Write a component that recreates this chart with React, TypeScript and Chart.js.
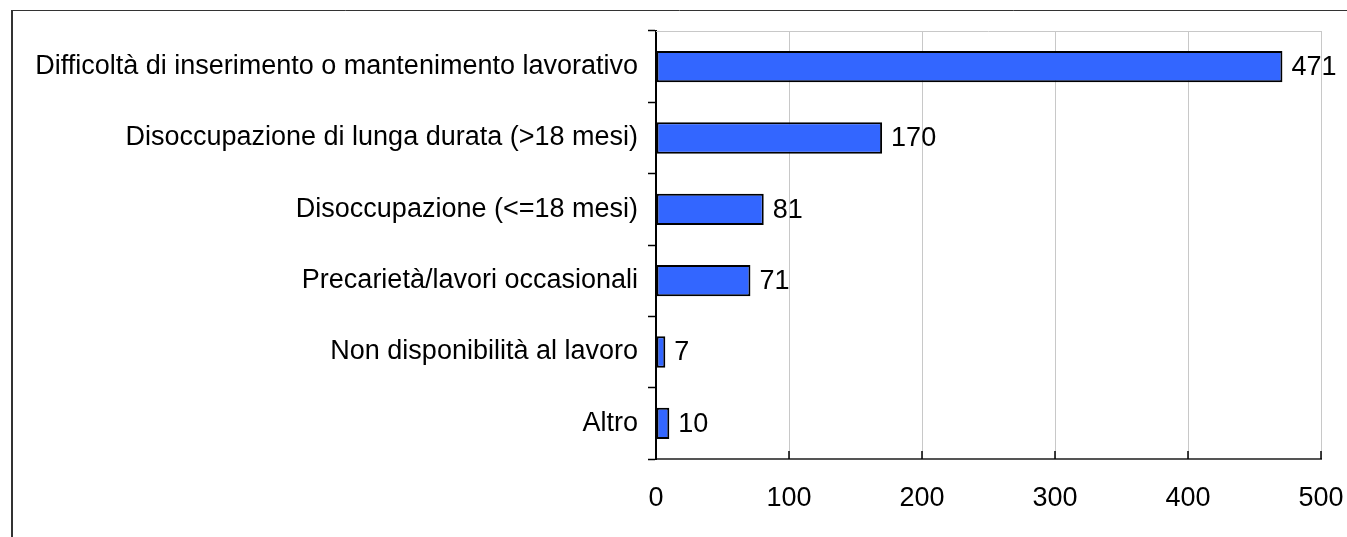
import React, { useEffect, useRef } from "react";
import { Chart, registerables } from "chart.js";

Chart.register(...registerables);

const categories = [
  "Difficoltà di inserimento o mantenimento lavorativo",
  "Disoccupazione di lunga durata (>18 mesi)",
  "Disoccupazione (<=18 mesi)",
  "Precarietà/lavori occasionali",
  "Non disponibilità al lavoro",
  "Altro",
];
const values = [471, 170, 81, 71, 7, 10];
const xTicks = [0, 100, 200, 300, 400, 500];

const FONT = "'Liberation Sans', Arial, sans-serif";
const FS = 27;

const framePlugin = {
  id: "frame",
  beforeDraw(chart: any) {
    const ctx = chart.ctx;
    ctx.save();
    ctx.fillStyle = "#ffffff";
    ctx.fillRect(0, 0, chart.width, chart.height);
    ctx.strokeStyle = "#333333";
    ctx.lineWidth = 2;
    ctx.beginPath();
    ctx.moveTo(12, chart.height + 5);
    ctx.lineTo(12, 10.5);
    ctx.stroke();
    ctx.lineWidth = 1;
    ctx.beginPath();
    ctx.moveTo(11, 10.5);
    ctx.lineTo(chart.width + 5, 10.5);
    ctx.stroke();
    ctx.restore();
  },
  afterDraw(chart: any) {
    const ctx = chart.ctx;
    const { chartArea } = chart;
    const xs = chart.scales.x;
    ctx.save();
    ctx.strokeStyle = "#c8c8c8";
    ctx.lineWidth = 1;
    ctx.beginPath();
    ctx.moveTo(chartArea.left, Math.round(chartArea.top) + 0.5);
    ctx.lineTo(chartArea.right, Math.round(chartArea.top) + 0.5);
    ctx.stroke();
    ctx.strokeStyle = "#000000";
    ctx.lineWidth = 1.5;
    xTicks.forEach((v) => {
      if (v === 0) return;
      const px = Math.round(xs.getPixelForValue(v));
      ctx.beginPath();
      ctx.moveTo(px, chartArea.bottom);
      ctx.lineTo(px, chartArea.bottom - 8);
      ctx.stroke();
    });
    const meta = chart.getDatasetMeta(0);
    ctx.fillStyle = "#000000";
    ctx.font = `${FS}px ${FONT}`;
    ctx.textAlign = "left";
    ctx.textBaseline = "middle";
    meta.data.forEach((bar: any, i: number) => {
      const p = bar.getProps(["x", "y"], true);
      ctx.fillText(String(values[i]), p.x + 9, p.y + 1);
    });
    ctx.restore();
  },
};

export default function App() {
  const ref = useRef<HTMLCanvasElement>(null);
  useEffect(() => {
    if (!ref.current) return;
    const chart = new Chart(ref.current, {
      type: "bar",
      data: {
        labels: categories,
        datasets: [
          {
            data: values,
            backgroundColor: "#3366ff",
            borderColor: "#000000",
            borderWidth: 2,
            borderSkipped: false,
            barPercentage: 0.44,
            categoryPercentage: 1,
          },
        ],
      },
      options: {
        indexAxis: "y",
        animation: false,
        responsive: true,
        maintainAspectRatio: false,
        layout: { padding: { top: 31, right: 26, left: 0, bottom: 0 } },
        plugins: { legend: { display: false }, tooltip: { enabled: false } },
        scales: {
          x: {
            min: 0,
            max: 500,
            afterBuildTicks: (scale: any) => {
              scale.ticks = xTicks.map((v) => ({ value: v }));
            },
            afterFit: (scale: any) => {
              scale.height = 537 - 31 - 428;
              scale.paddingRight = 0;
              scale.paddingLeft = 0;
            },
            grid: { color: "#c8c8c8", drawTicks: false, lineWidth: 1 },
            border: { color: "#555555", width: 2 },
            ticks: {
              color: "#000000",
              padding: 23,
              font: { family: FONT, size: FS },
              maxRotation: 0,
            },
          },
          y: {
            afterFit: (scale: any) => {
              scale.width = 656;
              scale.paddingTop = 0;
              scale.paddingBottom = 0;
            },
            grid: {
              offset: true,
              drawOnChartArea: false,
              drawTicks: true,
              tickLength: 8,
              tickColor: "#000000",
              tickWidth: 1.5,
            },
            border: { color: "#000000", width: 2 },
            ticks: {
              color: "#000000",
              padding: 10,
              font: { family: FONT, size: FS },
              autoSkip: false,
            },
          },
        },
      },
      plugins: [framePlugin],
    });
    return () => chart.destroy();
  }, []);
  return (
    <div style={{ position: "fixed", left: 0, top: 0, width: 1347, height: 537 }}>
      <canvas ref={ref} />
    </div>
  );
}
